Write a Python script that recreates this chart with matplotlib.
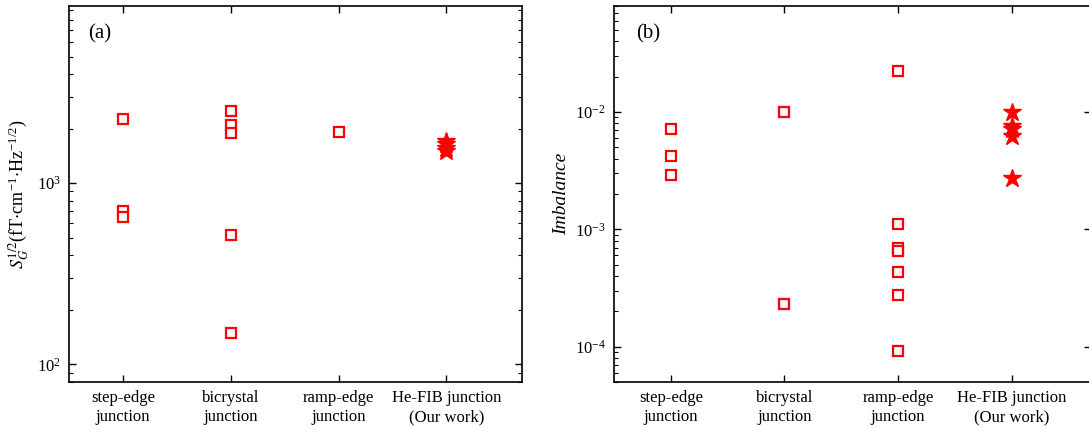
import matplotlib
matplotlib.use('Agg')
import matplotlib.pyplot as plt
from matplotlib.ticker import LogLocator, NullFormatter

plt.rcParams['font.family'] = ['Liberation Serif', 'DejaVu Serif']
plt.rcParams['mathtext.fontset'] = 'stix'

categories = ['step-edge\njunction', 'bicrystal\njunction',
              'ramp-edge\njunction', 'He-FIB junction\n(Our work)']

# (a) noise spectral density, fT cm^-1 Hz^-1/2
noise_step = [2270, 700, 650]
noise_bicrystal = [2500, 2100, 1900, 520, 150]
noise_ramp = [1910]
noise_hefib = [1720, 1640, 1560, 1500]

# (b) imbalance
imb_step = [7.2e-3, 4.2e-3, 2.9e-3]
imb_bicrystal = [1.0e-2, 2.32e-4]
imb_ramp = [2.23e-2, 1.1e-3, 6.9e-4, 6.6e-4, 4.35e-4, 2.78e-4, 9.1e-5]
imb_hefib = [9.9e-3, 7.6e-3, 7.1e-3, 6.2e-3, 2.75e-3]

red = '#ff0000'


def draw_panel(ax, groups, minor_right=True):
    for i, vals in enumerate(groups[:3]):
        ax.plot([i + 1] * len(vals), vals, 's', mfc='white', mec=red,
                mew=1.6, ms=7, ls='none')
    ax.plot([4] * len(groups[3]), groups[3], '*', color=red, ms=13.5, ls='none')
    ax.set_yscale('log')
    ax.set_xlim(0.5, 4.7)
    ax.set_xticks([1, 2, 3, 4])
    ax.set_xticklabels(categories, fontsize=12, linespacing=1.25)
    ax.yaxis.set_minor_locator(LogLocator(base=10, subs=range(2, 10), numticks=20))
    ax.yaxis.set_minor_formatter(NullFormatter())
    ax.tick_params(which='major', direction='in', length=5, width=1,
                   top=True, right=True, labelsize=12, pad=6)
    ax.tick_params(axis='x', which='major', pad=6)
    ax.tick_params(which='minor', direction='in', length=3, width=0.8,
                   left=True, right=minor_right)
    ax.tick_params(axis='x', which='minor', bottom=False, top=False)
    for s in ax.spines.values():
        s.set_linewidth(1.2)


fig = plt.figure(figsize=(10.89, 4.30), dpi=100)
ax1 = fig.add_axes([69 / 1089, 48 / 430, 453 / 1089, 376 / 430])
ax2 = fig.add_axes([614 / 1089, 48 / 430, 477 / 1089, 376 / 430])

draw_panel(ax1, [noise_step, noise_bicrystal, noise_ramp, noise_hefib])
ax1.set_ylim(80, 9500)
ax1.set_ylabel(r'$S_G^{\mathit{1/2}}$(fT$\cdot$cm$^{\mathregular{-1}}$$\cdot$Hz$^{\mathregular{-1/2}}$)',
               fontsize=13, labelpad=4)
ax1.text(0.042, 0.925, '(a)', transform=ax1.transAxes, fontsize=15, va='center')

draw_panel(ax2, [imb_step, imb_bicrystal, imb_ramp, imb_hefib], minor_right=False)
ax2.set_ylim(5e-5, 0.08)
ax2.set_ylabel('Imbalance', fontsize=14, style='italic', labelpad=3)
ax2.text(0.046, 0.925, '(b)', transform=ax2.transAxes, fontsize=15, va='center')

fig.savefig('out.png', dpi=100)
